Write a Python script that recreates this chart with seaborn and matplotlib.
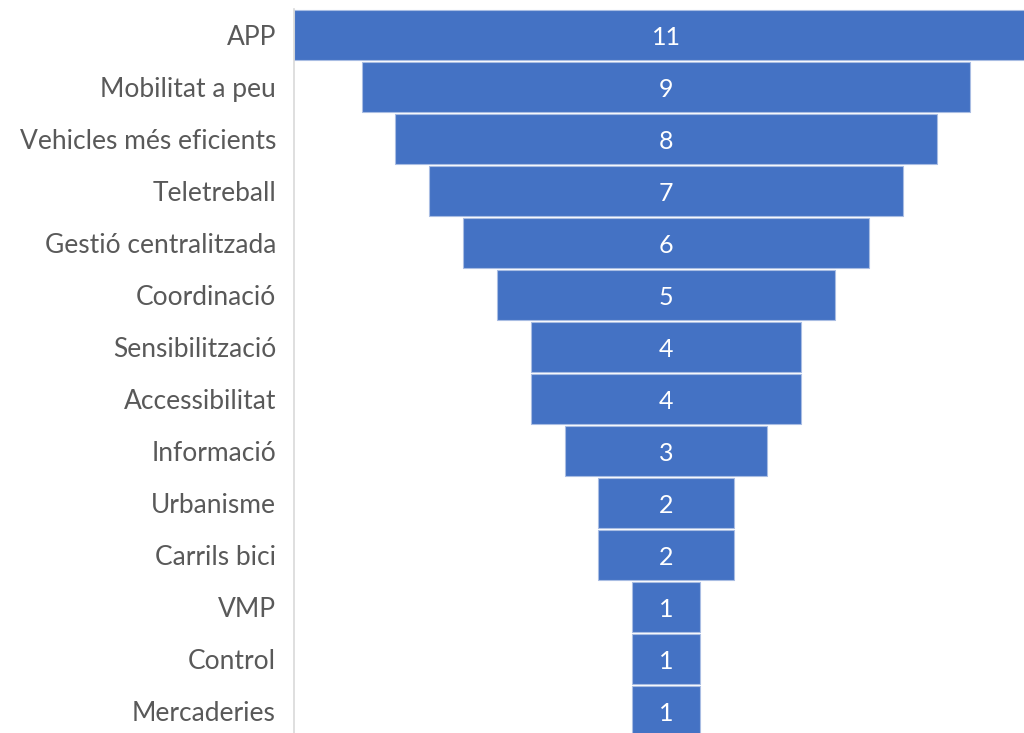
import matplotlib
matplotlib.use("Agg")
import matplotlib.pyplot as plt
import seaborn as sns
import pandas as pd

categories = ["APP", "Mobilitat a peu", "Vehicles més eficients", "Teletreball",
              "Gestió centralitzada", "Coordinació", "Sensibilització", "Accessibilitat",
              "Informació", "Urbanisme", "Carrils bici", "VMP", "Control", "Mercaderies"]
values = [11, 9, 8, 7, 6, 5, 4, 4, 3, 2, 2, 1, 1, 1]

df = pd.DataFrame({"cat": categories, "val": values})

sns.set_theme(style="white")
plt.rcParams['font.family'] = ['Lato', 'DejaVu Sans']

fig = plt.figure(figsize=(10.24, 7.33), dpi=100)
ax = fig.add_axes([294/1024, -0.0055, 744/1024, 0.993])

sns.barplot(data=df, x="val", y="cat", orient="h", color="#4472C4", saturation=1,
            width=0.95, edgecolor="#A9BDE3", linewidth=0.8, ax=ax)

# center the bars (funnel)
for p in ax.patches:
    w = p.get_width()
    p.set_x(-w / 2)

for p, v in zip(ax.patches, values):
    ax.text(0, p.get_y() + p.get_height() / 2, str(v), ha="center", va="center_baseline",
            color="white", fontsize=18)

ax.set_xlim(-5.5, 5.5)
ax.set_ylim(13.5, -0.5)
ax.set_xlabel("")
ax.set_ylabel("")
ax.set_xticks([])
ax.tick_params(axis="y", length=0, pad=13, labelsize=19, labelcolor="#595959")
for s in ["top", "right", "bottom"]:
    ax.spines[s].set_visible(False)
ax.spines["left"].set_color("#D9D9D9")
ax.spines["left"].set_linewidth(1.2)

fig.savefig("out.png", dpi=100)
